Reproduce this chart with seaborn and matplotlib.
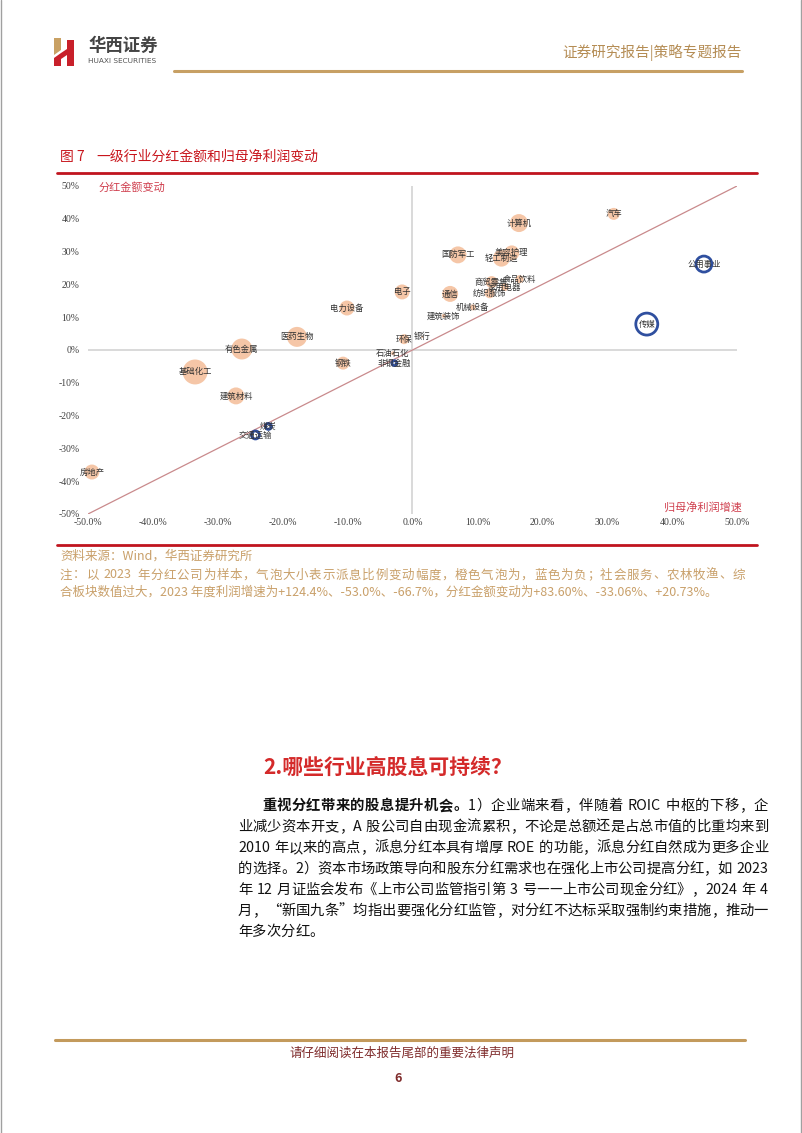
import numpy as np
import pandas as pd
import matplotlib
matplotlib.use("Agg")
import matplotlib.pyplot as plt
import seaborn as sns
from matplotlib.lines import Line2D
from matplotlib.patches import Polygon

# ---------------- data ----------------
industries = ["汽车", "计算机", "公用事业", "传媒", "国防军工", "美容护理", "轻工制造",
              "食品饮料", "商贸零售", "家用电器", "纺织服饰", "通信", "机械设备", "建筑装饰",
              "电子", "电力设备", "医药生物", "有色金属", "基础化工", "建筑材料", "钢铁",
              "环保", "银行", "石油石化", "非银金融", "煤炭", "交通运输", "房地产"]
profit_growth = [31.0, 16.4, 44.9, 36.1, 7.0, 15.3, 13.7,
                 16.5, 12.2, 14.2, 11.9, 5.8, 9.3, 4.8,
                 -1.6, -10.1, -17.8, -26.3, -33.5, -27.2, -10.7,
                 -1.3, 1.5, -3.0, -2.8, -22.2, -24.2, -49.4]
dividend_change = [41.5, 38.7, 26.2, 7.9, 29.0, 29.6, 28.0,
                   21.6, 20.7, 19.2, 17.3, 17.1, 13.0, 10.4,
                   17.7, 12.8, 4.0, 0.3, -6.7, -14.0, -4.0,
                   3.3, 4.0, -1.0, -4.0, -23.3, -25.9, -37.2]
payout_change = [3.6, 8.1, -6.4, -12.1, 7.2, 5.6, 7.2,
                 1.6, 3.6, 1.6, 2.5, 6.4, 0.9, 0.4,
                 5.6, 5.6, 10.0, 11.0, 15.6, 7.2, 4.2,
                 2.5, 0.1, 0.4, -0.6, -0.9, -1.6, 5.6]
x_ticks = [-50, -40, -30, -20, -10, 0, 10, 20, 30, 40, 50]
y_ticks = [-50, -40, -30, -20, -10, 0, 10, 20, 30, 40, 50]
ref_line = [-50, 50]

body_lines = [
    [("重视分红带来的股息提升机会。", "bold"), ("1）企业端来看，伴随着 ROIC 中枢的下移，企", "normal")],
    [("业减少资本开支，A 股公司自由现金流累积，不论是总额还是占总市值的比重均来到", "normal")],
    [("2010 年以来的高点，派息分红本具有增厚 ROE 的功能，派息分红自然成为更多企业", "normal")],
    [("的选择。2）资本市场政策导向和股东分红需求也在强化上市公司提高分红，如 2023", "normal")],
    [("年 12 月证监会发布《上市公司监管指引第 3 号——上市公司现金分红》，2024 年 4", "normal")],
    [("月，“新国九条”均指出要强化分红监管，对分红不达标采取强制约束措施，推动一", "normal")],
    [("年多次分红。", "normal")],
]
note_lines = [
    "注：以 2023 年分红公司为样本，气泡大小表示派息比例变动幅度，橙色气泡为，蓝色为负；社会服务、农林牧渔、综",
    "合板块数值过大，2023 年度利润增速为+124.4%、-53.0%、-66.7%，分红金额变动为+83.60%、-33.06%、+20.73%。",
]

# ---------------- setup ----------------
sns.set_theme(style="white")
plt.rcParams['font.family'] = ['Noto Sans CJK SC', 'DejaVu Sans']

W, H = 802, 1133
fig = plt.figure(figsize=(W / 100, H / 100), dpi=100)
fig.patch.set_facecolor("white")


def fx(x):
    return x / W


def fy(y):
    return 1 - y / H


def hline(x0, x1, y, color, lw):
    fig.add_artist(Line2D([fx(x0), fx(x1)], [fy(y), fy(y)], color=color, lw=lw,
                          transform=fig.transFigure))


# page borders
fig.add_artist(Line2D([fx(0.5), fx(0.5)], [0, 1], color="#a0a0a0", lw=1.0, transform=fig.transFigure))
fig.add_artist(Line2D([fx(801), fx(801)], [0, 1], color="#a0a0a0", lw=1.0, transform=fig.transFigure))

# logo
logo_parts = [
    ([(54, 38), (61, 38), (61, 50), (54, 55)], "#c9a164"),
    ([(54, 58), (61, 53), (61, 66), (54, 66)], "#c8202a"),
    ([(61, 53), (67, 49), (67, 55), (61, 59)], "#c8202a"),
    ([(67, 40), (74, 40), (74, 66), (67, 66)], "#c8202a"),
]
for pts, col in logo_parts:
    fig.add_artist(Polygon([(fx(a), fy(b)) for a, b in pts], closed=True, facecolor=col,
                           edgecolor="none", transform=fig.transFigure))
fig.text(fx(88), fy(46), "华西证券", fontsize=12.5, fontweight="bold", color="#444444",
         ha="left", va="center")
fig.text(fx(88), fy(61), "HUAXI SECURITIES", fontsize=5.3, color="#555555", ha="left",
         va="center", family=["DejaVu Sans"])
fig.text(fx(742), fy(53), "证券研究报告|策略专题报告", fontsize=10.5, color="#b58d55",
         ha="right", va="center")
hline(174, 742, 71, "#c7a064", 2.2)

# figure title
fig.text(fx(60), fy(157), "图 7", fontsize=10, color="#c8161d", ha="left", va="center")
fig.text(fx(96), fy(157), "一级行业分红金额和归母净利润变动", fontsize=10, color="#c8161d",
         ha="left", va="center")
hline(57, 757, 173, "#c0141e", 2.0)

# ---------------- chart ----------------
ax = fig.add_axes([fx(88), fy(514), (737 - 88) / W, (514 - 186) / H])
df = pd.DataFrame({"行业": industries, "归母净利润增速": profit_growth,
                   "分红金额变动": dividend_change, "派息比例变动": payout_change})
df["幅度"] = df["派息比例变动"].abs()
pos = df[df["派息比例变动"] >= 0]
neg = df[df["派息比例变动"] < 0]

SMAX = 20.7 * 20
sns.scatterplot(data=pos, x="归母净利润增速", y="分红金额变动", size="幅度",
                sizes=(0, SMAX), size_norm=(0, 20), color="#f5c2a0", edgecolor="none",
                alpha=0.92, legend=False, ax=ax, clip_on=False, zorder=3)
sns.scatterplot(data=neg, x="归母净利润增速", y="分红金额变动", size="幅度",
                sizes=(0, SMAX), size_norm=(0, 20), facecolor="none", edgecolor="#2f4f9f",
                linewidth=2.0, legend=False, ax=ax, clip_on=False, zorder=3)

ax.axhline(0, color="#d9d9d9", lw=1.4, zorder=1)
ax.axvline(0, color="#d9d9d9", lw=1.4, zorder=1)
ax.plot(ref_line, ref_line, color="#c98a8c", lw=0.9, zorder=2)

for _, r in df.iterrows():
    ax.text(r["归母净利润增速"], r["分红金额变动"], r["行业"], fontsize=6, color="#333333",
            ha="center", va="center", zorder=5, clip_on=False)

ax.set_xlim(-50, 50)
ax.set_ylim(-50, 50)
ax.set_xticks(x_ticks)
ax.set_xticklabels([f"{v:.1f}%" for v in x_ticks])
ax.set_yticks(y_ticks)
ax.set_yticklabels([f"{v}%" for v in y_ticks])
ax.tick_params(axis="both", length=0, labelsize=7, colors="#404040")
ax.tick_params(axis="x", pad=3)
ax.tick_params(axis="y", pad=6)
for lab in ax.get_xticklabels() + ax.get_yticklabels():
    lab.set_family(["Liberation Serif"])
for s in ax.spines.values():
    s.set_visible(False)
ax.set_xlabel("")
ax.set_ylabel("")
ax.grid(False)
ax.set_facecolor("none")

fig.text(fx(99), fy(187), "分红金额变动", fontsize=8, color="#d0404f", ha="left", va="center")
fig.text(fx(742), fy(507), "归母净利润增速", fontsize=8, color="#d0404f", ha="right", va="center")

hline(57, 757, 545, "#c0141e", 2.0)

# ---------------- text helpers ----------------
renderer = fig.canvas.get_renderer()


def split_tokens(s):
    out, buf = [], ""
    for ch in s:
        if ord(ch) < 128 and ch != " ":
            buf += ch
        else:
            if buf:
                out.append(buf)
                buf = ""
            out.append(ch)
    if buf:
        out.append(buf)
    return out


def draw_line(segments, x0, x1, y, fontsize, color, justify=True):
    toks = []
    for text, weight in segments:
        for t in split_tokens(text):
            toks.append((t, weight))
    widths = []
    for t, w in toks:
        if t == " ":
            widths.append(fontsize * 100 / 72 * 0.28)
            continue
        tt = fig.text(0, 0, t, fontsize=fontsize, fontweight=w)
        bb = tt.get_window_extent(renderer=renderer)
        widths.append(bb.width)
        tt.remove()
    total = sum(widths)
    gap = (x1 - x0 - total) / (len(toks) - 1) if (justify and len(toks) > 1) else 0.0
    x = x0
    for (t, w), wd in zip(toks, widths):
        if t != " ":
            fig.text(fx(x), fy(y), t, fontsize=fontsize, fontweight=w, color=color,
                     ha="left", va="center")
        x += wd + gap


fig.text(fx(60), fy(556), "资料来源：Wind，华西证券研究所", fontsize=9, color="#c9a06a",
         ha="left", va="center")
draw_line([(note_lines[0], "normal")], 60, 745, 575, 9, "#c9a06a", justify=True)
fig.text(fx(60), fy(592), note_lines[1], fontsize=9, color="#c9a06a", ha="left", va="center")

# section title
fig.text(fx(388), fy(767), "2.哪些行业高股息可持续？", fontsize=15, fontweight="bold",
         color="#d42a2a", ha="center", va="center")

body_y = [806, 827, 848, 869, 890, 911, 932]
for i, (segs, yy) in enumerate(zip(body_lines, body_y)):
    x0 = 262 if i == 0 else 238
    draw_line(segs, x0, 768, yy, 10.3, "#111111", justify=(i < len(body_lines) - 1))

# footer
hline(55, 745, 1040, "#c39a5c", 2.2)
fig.text(fx(402), fy(1053), "请仔细阅读在本报告尾部的重要法律声明", fontsize=9, color="#7f2b2b",
         ha="center", va="center")
fig.text(fx(398), fy(1078), "6", fontsize=9, fontweight="bold", color="#7f2b2b",
         ha="center", va="center")

fig.savefig("out.png", dpi=100, facecolor="white")
